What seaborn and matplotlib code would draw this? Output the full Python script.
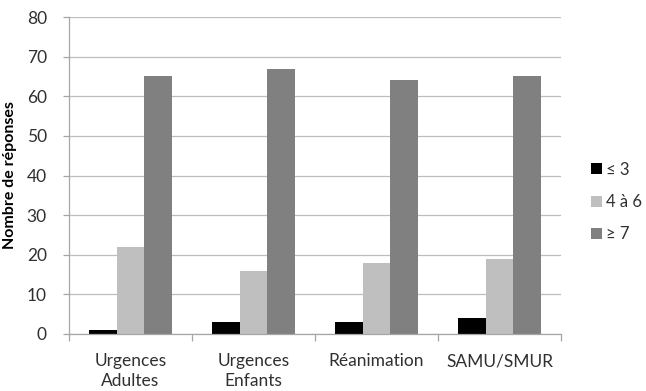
import matplotlib
matplotlib.use("Agg")
import matplotlib.pyplot as plt
from matplotlib.patches import Patch
import numpy as np
import pandas as pd
import seaborn as sns

categories = ["Urgences\nAdultes", "Urgences\nEnfants", "Réanimation", "SAMU/SMUR"]
series_names = ["≤ 3", "4 à 6", "≥ 7"]
low = [1, 3, 3, 4]
mid = [22, 16, 18, 19]
high = [65, 67, 64, 65]
y_ticks = [0, 10, 20, 30, 40, 50, 60, 70, 80]

colors = ["#000000", "#BFBFBF", "#808080"]

df = pd.DataFrame({
    "cat": categories * 3,
    "serie": [series_names[0]] * 4 + [series_names[1]] * 4 + [series_names[2]] * 4,
    "val": low + mid + high,
})

sns.set_theme(style="white")
plt.rcParams["font.family"] = ["Lato", "DejaVu Sans"]

fig = plt.figure(figsize=(6.46, 3.91), dpi=100)
ax = fig.add_axes([69 / 646, 1 - 334 / 391, (561 - 69) / 646, (334 - 17) / 391])

sns.barplot(data=df, x="cat", y="val", hue="serie", order=categories,
            hue_order=series_names, palette=colors, width=0.67, gap=0,
            saturation=1, linewidth=0, ax=ax, legend=False)

ax.set_xlim(-0.5, 3.5)
ax.set_ylim(0, 80)
ax.set_yticks(y_ticks)
ax.yaxis.grid(True, color="#BDBDBD", linewidth=0.9)
ax.set_axisbelow(True)

for s in ["top", "right"]:
    ax.spines[s].set_visible(False)
for s in ["left", "bottom"]:
    ax.spines[s].set_color("#A6A6A6")
    ax.spines[s].set_linewidth(0.9)

ax.set_xticks(range(4))
ax.set_xticklabels(categories)
ax.set_xticks(np.arange(-0.5, 4.0, 1.0), minor=True)
ax.tick_params(axis="x", which="major", length=0, pad=14, labelsize=12.5, colors="#303030")
ax.tick_params(axis="x", which="minor", length=5, width=0.9, color="#A6A6A6", bottom=True)
ax.tick_params(axis="y", length=4, width=0.9, color="#A6A6A6", left=True, pad=12,
               labelsize=12.5, labelcolor="#303030")
for lbl in ax.get_xticklabels():
    lbl.set_linespacing(1.3)

ax.set_xlabel("")
ax.set_ylabel("Nombre de réponses", fontsize=11.5, fontweight="bold", color="#000000", labelpad=7)

handles = [Patch(facecolor=c, edgecolor="none") for c in colors]
fig.legend(handles, series_names, loc="center left", bbox_to_anchor=(576 / 646, 1 - 202 / 391),
           frameon=False, fontsize=12, handlelength=0.65, handleheight=0.65,
           handletextpad=0.25, labelspacing=0.98, labelcolor="#303030")

fig.savefig("out.png", dpi=100)
